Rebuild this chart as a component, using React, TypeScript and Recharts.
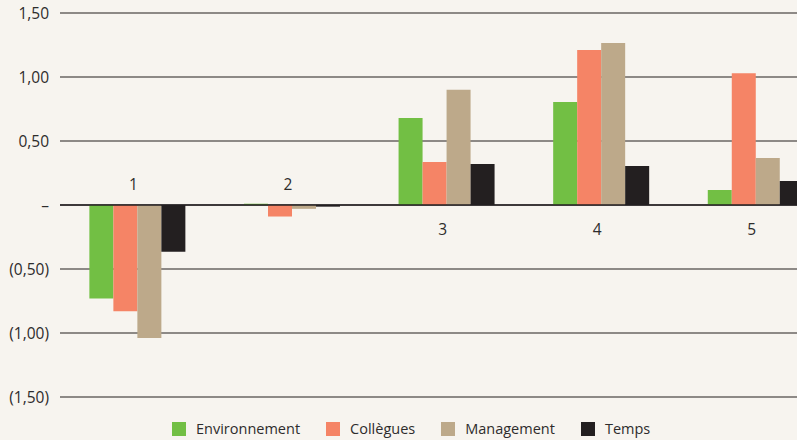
import React from "react";
import {
  BarChart,
  Bar,
  XAxis,
  YAxis,
  CartesianGrid,
  ReferenceLine,
  Legend,
  LabelList,
} from "recharts";

const categories = ["1", "2", "3", "4", "5"];
const environnement = [-0.73, 0.01, 0.68, 0.805, 0.117];
const collegues = [-0.83, -0.09, 0.336, 1.21, 1.03];
const management = [-1.04, -0.03, 0.9, 1.266, 0.367];
const temps = [-0.365, -0.013, 0.32, 0.305, 0.1875];
const yTicks = [-1.5, -1, -0.5, 0, 0.5, 1, 1.5];

const series = [
  { key: "environnement", name: "Environnement", color: "#72bf44" },
  { key: "collegues", name: "Collègues", color: "#f58466" },
  { key: "management", name: "Management", color: "#bda98a" },
  { key: "temps", name: "Temps", color: "#231f20" },
];

const data = categories.map((name, i) => ({
  name,
  environnement: environnement[i],
  collegues: collegues[i],
  management: management[i],
  temps: temps[i],
}));

const FONT = "'Open Sans', sans-serif";
const TEXT = "#2e2c2c";
const BG = "#f7f4ef";

function fmt(v: number) {
  if (v === 0) return "–";
  const s = Math.abs(v).toFixed(2).replace(".", ",");
  return v < 0 ? `(${s})` : s;
}

// category label sits next to the zero line, above when the group dips below
function GroupLabel(props: any) {
  const { x, y, width, height, value, index } = props;
  const top = Math.min(y, y + height);
  const bottom = Math.max(y, y + height);
  const neg = collegues[index] < 0;
  const zero = neg ? top : bottom;
  return (
    <text
      x={x + width - 4}
      y={neg ? zero - 15 : zero + 30}
      textAnchor="middle"
      fill={TEXT}
      fontSize={15.5}
      fontFamily={FONT}
    >
      {value}
    </text>
  );
}

function LegendContent() {
  return (
    <div style={{ display: "flex", alignItems: "center", fontFamily: FONT, fontSize: 14.5, color: TEXT }}>
      {series.map((s) => (
        <div key={s.key} style={{ display: "flex", alignItems: "center", marginRight: 26 }}>
          <span style={{ width: 14, height: 14, background: s.color, display: "inline-block", marginRight: 10 }} />
          <span>{s.name}</span>
        </div>
      ))}
    </div>
  );
}

export default function App() {
  return (
    <div
      style={{
        position: "absolute",
        left: 0,
        top: 0,
        width: 797,
        height: 440,
        overflow: "hidden",
        background: BG,
      }}
    >
      <BarChart
        width={833}
        height={440}
        data={data}
        margin={{ top: 13, right: 0, bottom: 43, left: 0 }}
        barCategoryGap="19%"
        barGap={0}
      >
        <CartesianGrid vertical={false} stroke="#6a6663" strokeWidth={1.5} />
        <XAxis dataKey="name" hide />
        <YAxis
          width={60}
          domain={[-1.5, 1.5]}
          ticks={yTicks}
          tickFormatter={fmt}
          axisLine={false}
          tickLine={false}
          tickSize={0}
          tickMargin={11}
          tick={{ fill: TEXT, fontSize: 15.5, fontFamily: FONT }}
        />
        <ReferenceLine y={0} stroke="#231f20" strokeWidth={1.5} />
        {series.map((s) => (
          <Bar key={s.key} dataKey={s.key} name={s.name} fill={s.color} isAnimationActive={false}>
            {s.key === "collegues" && <LabelList dataKey="name" content={GroupLabel} />}
          </Bar>
        ))}
        <Legend
          verticalAlign="middle"
          content={LegendContent}
          wrapperStyle={{ top: 419, left: 172, width: "auto" }}
        />
      </BarChart>
    </div>
  );
}
